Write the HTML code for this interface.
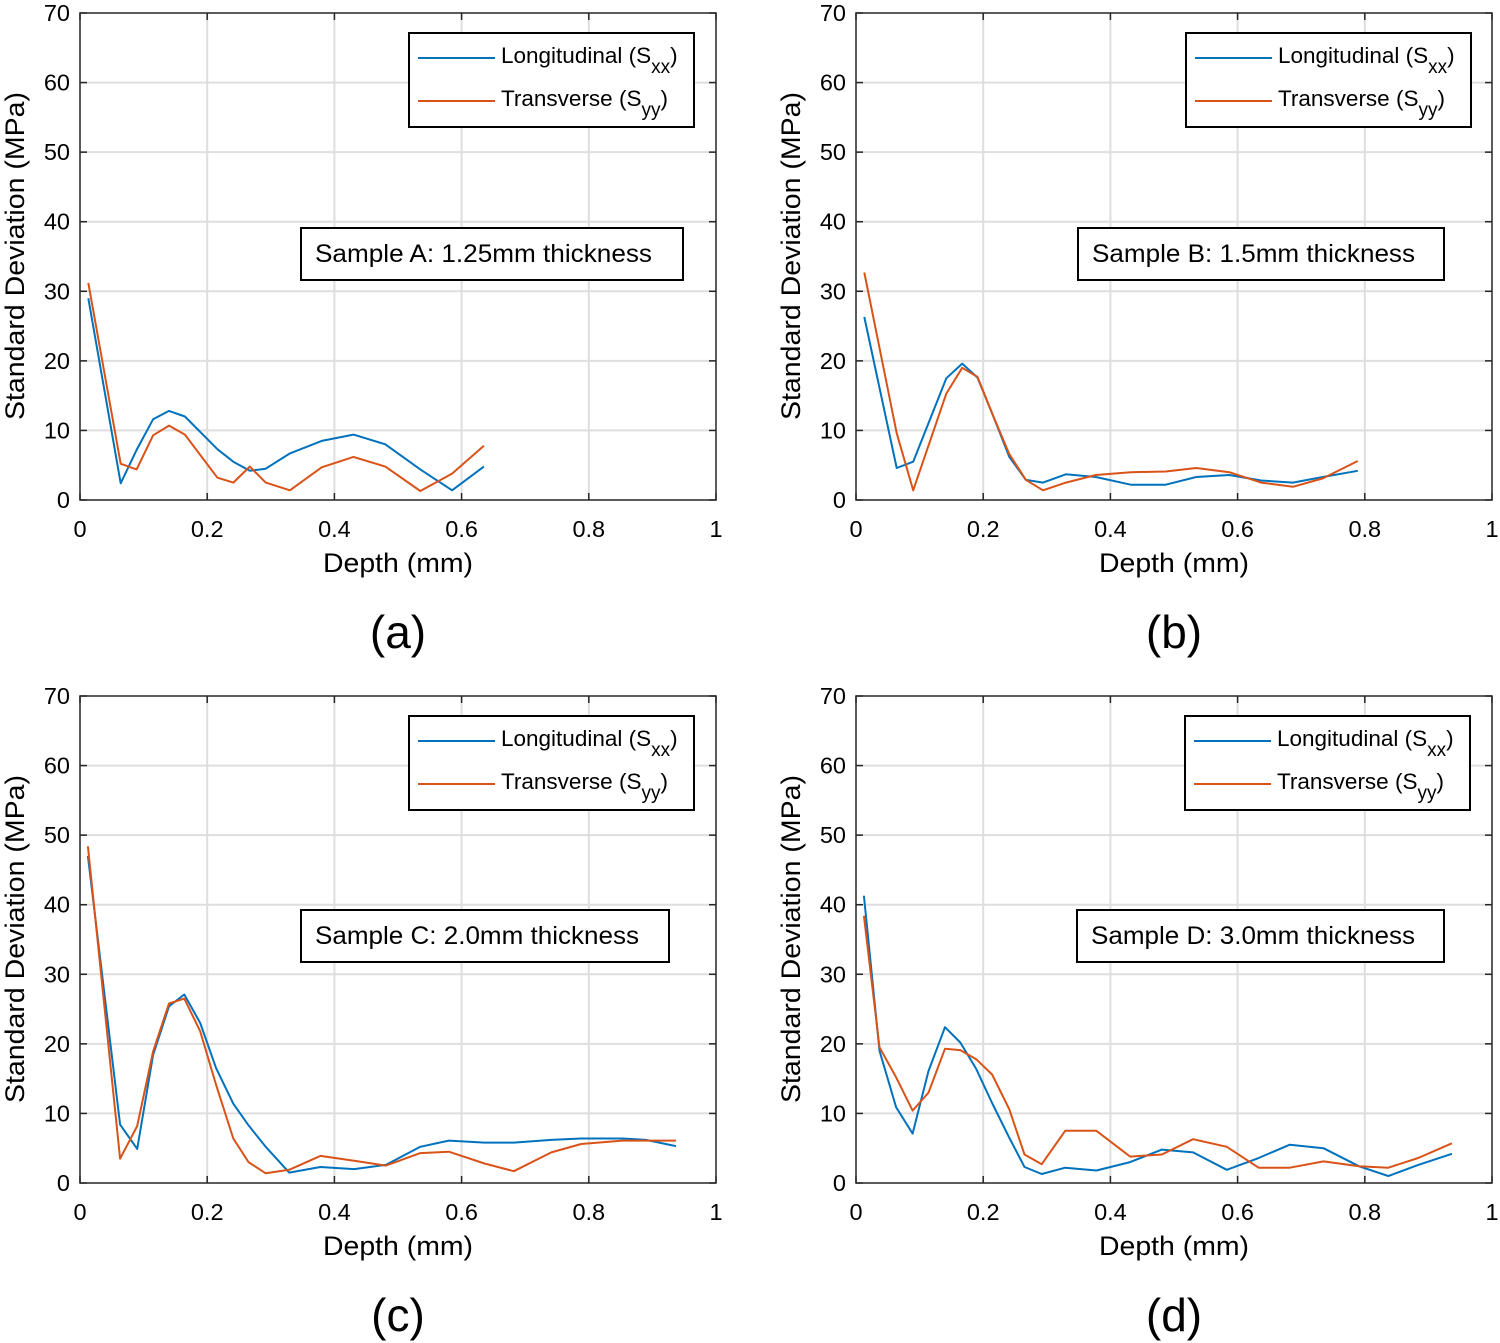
<!DOCTYPE html>
<html><head><meta charset="utf-8"><style>
html,body{margin:0;padding:0;background:#fff;}
svg{display:block;font-family:"Liberation Sans",Arial,sans-serif;}
</style></head><body>
<svg id="fig" width="1500" height="1343" viewBox="0 0 1500 1343" xmlns="http://www.w3.org/2000/svg"></svg>
<script>
const xTicks = [0, 0.2, 0.4, 0.6, 0.8, 1];
const xTickLabels = ['0', '0.2', '0.4', '0.6', '0.8', '1'];
const yTicks = [0, 10, 20, 30, 40, 50, 60, 70];
const yTickLabels = ['0', '10', '20', '30', '40', '50', '60', '70'];

const depthA = [0.013,0.064,0.089,0.115,0.14,0.165,0.216,0.241,0.267,0.292,0.33,0.38,0.43,0.48,0.535,0.585,0.635];
const longA = [29.0,2.4,7.2,11.6,12.8,12.0,7.3,5.5,4.2,4.5,6.7,8.5,9.4,8.0,4.4,1.4,4.8];
const transA = [31.2,5.2,4.4,9.3,10.7,9.4,3.2,2.5,4.8,2.5,1.4,4.7,6.2,4.8,1.3,3.8,7.8];

const depthB = [0.013,0.064,0.09,0.142,0.167,0.191,0.216,0.241,0.267,0.294,0.33,0.377,0.432,0.487,0.535,0.587,0.637,0.687,0.734,0.789];
const longB = [26.3,4.6,5.5,17.5,19.6,17.6,12.0,6.2,2.9,2.5,3.7,3.3,2.2,2.2,3.3,3.6,2.8,2.5,3.3,4.2];
const transB = [32.7,9.6,1.4,15.3,19.0,17.7,12.0,6.6,2.9,1.4,2.5,3.6,4.0,4.1,4.6,4.0,2.5,1.9,3.1,5.6];

const depthC = [0.0124,0.063,0.09,0.115,0.14,0.164,0.189,0.214,0.241,0.265,0.292,0.329,0.378,0.431,0.481,0.535,0.58,0.636,0.682,0.741,0.788,0.853,0.89,0.937];
const longC = [47.0,8.4,4.9,18.4,25.4,27.1,23.0,16.5,11.4,8.3,5.2,1.5,2.3,2.0,2.6,5.2,6.1,5.8,5.8,6.2,6.4,6.4,6.2,5.3];
const transC = [48.4,3.5,8.2,18.9,25.8,26.5,21.8,14.1,6.4,3.0,1.4,1.9,3.9,3.2,2.5,4.3,4.5,2.8,1.7,4.4,5.6,6.1,6.1,6.1];

const depthD = [0.0124,0.037,0.063,0.089,0.114,0.14,0.164,0.189,0.214,0.241,0.265,0.292,0.329,0.378,0.431,0.481,0.53,0.583,0.633,0.682,0.735,0.791,0.837,0.884,0.937];
const longD = [41.3,19.0,10.9,7.1,16.1,22.4,20.2,16.4,11.5,6.5,2.3,1.3,2.2,1.8,3.0,4.8,4.4,1.9,3.6,5.5,5.0,2.4,1.0,2.6,4.2];
const transD = [38.4,19.5,15.2,10.4,13.0,19.3,19.1,17.8,15.6,10.6,4.1,2.7,7.5,7.5,3.8,4.1,6.3,5.2,2.2,2.2,3.1,2.4,2.2,3.6,5.7];

const NS = 'http://www.w3.org/2000/svg';
const svg = document.getElementById('fig');
function mk(tag, attrs, parent){ const e=document.createElementNS(NS,tag); for(const k in attrs) e.setAttribute(k,attrs[k]); (parent||svg).appendChild(e); return e; }

const panels = [
 {id:'a', x0:80, y0:13, label:'(a)', sample:'Sample A: 1.25mm thickness', sw:337, d:depthA, l:longA, t:transA, leg:[409,33], box:[301,228,382]},
 {id:'b', x0:856, y0:13, label:'(b)', sample:'Sample B: 1.5mm thickness', sw:323, d:depthB, l:longB, t:transB, leg:[1186,33], box:[1078,228,366]},
 {id:'c', x0:80, y0:696, label:'(c)', sample:'Sample C: 2.0mm thickness', sw:324, d:depthC, l:longC, t:transC, leg:[409,716], box:[301,910,368]},
 {id:'d', x0:856, y0:696, label:'(d)', sample:'Sample D: 3.0mm thickness', sw:324, d:depthD, l:longD, t:transD, leg:[1185,716], box:[1077,910,367]}
];
const W=636, H=487;

panels.forEach(p=>{
  const g = mk('g',{});
  
  
  const xs = v => p.x0 + v*W;
  const ys = v => p.y0 + H - v/70*H;
  xTicks.forEach(t=>{ if(t>0&&t<1){ const l=mk('line',{x1:xs(t),x2:xs(t),y1:p.y0,y2:p.y0+H,stroke:'#dedede','stroke-width':2},g);   }});
  yTicks.forEach(t=>{ if(t>0&&t<70){ const l=mk('line',{x1:p.x0,x2:p.x0+W,y1:ys(t),y2:ys(t),stroke:'#dedede','stroke-width':2},g);   }});
  const mkLine=(vals,color,name)=>{
    const pts = p.d.map((d,i)=>xs(d).toFixed(1)+','+ys(vals[i]).toFixed(1)).join(' ');
    const pl = mk('polyline',{points:pts,fill:'none',stroke:color,'stroke-width':2,'stroke-linejoin':'round'},g);
    
    
  };
  mkLine(p.l,'#0072BD','longitudinal-line');
  mkLine(p.t,'#D95319','transverse-line');
  const fr = mk('rect',{x:p.x0,y:p.y0,width:W,height:H,fill:'none',stroke:'#262626','stroke-width':1.5},g);
   
  xTicks.forEach((t,i)=>{
    mk('line',{x1:xs(t),x2:xs(t),y1:p.y0+H,y2:p.y0+H-7,stroke:'#262626','stroke-width':1.5},g);
    mk('line',{x1:xs(t),x2:xs(t),y1:p.y0,y2:p.y0+7,stroke:'#262626','stroke-width':1.5},g);
    const tx = mk('text',{x:xs(t),y:p.y0+H+37,'text-anchor':'middle','font-size':23.5,fill:'#000'},g);
    tx.textContent = xTickLabels[i];
     
  });
  yTicks.forEach((t,i)=>{
    mk('line',{x1:p.x0,x2:p.x0+7,y1:ys(t),y2:ys(t),stroke:'#262626','stroke-width':1.5},g);
    mk('line',{x1:p.x0+W,x2:p.x0+W-7,y1:ys(t),y2:ys(t),stroke:'#262626','stroke-width':1.5},g);
    const tx = mk('text',{x:p.x0-10,y:ys(t)+8,'text-anchor':'end','font-size':23.5,fill:'#000'},g);
    tx.textContent = yTickLabels[i];
     
  });
  const xt = mk('text',{x:p.x0+318,y:p.y0+H+72,'text-anchor':'middle','font-size':27,fill:'#000',textLength:150,lengthAdjust:'spacingAndGlyphs'},g);
  xt.textContent='Depth (mm)';
   
  const yt = mk('text',{x:0,y:0,'text-anchor':'middle','font-size':27,fill:'#000',textLength:328,lengthAdjust:'spacingAndGlyphs',transform:`translate(${p.x0-56},${p.y0+243}) rotate(-90)`},g);
  yt.textContent='Standard Deviation (MPa)';
   
  const pl = mk('text',{x:p.x0+318,y:p.y0+H+148,'text-anchor':'middle','font-size':46,fill:'#000'},g);
  pl.textContent=p.label;
   
  const lg = mk('g',{},g);
   
  const [lx,ly]=p.leg;
  mk('rect',{x:lx,y:ly,width:285,height:94,fill:'#fff',stroke:'#000','stroke-width':2},lg);
  mk('line',{x1:lx+9,x2:lx+86,y1:ly+25,y2:ly+25,stroke:'#0072BD','stroke-width':2},lg);
  mk('line',{x1:lx+9,x2:lx+86,y1:ly+68,y2:ly+68,stroke:'#D95319','stroke-width':2},lg);
  const t1 = mk('text',{x:lx+92,y:ly+30,'font-size':22.5,fill:'#000'},lg);
  t1.innerHTML='Longitudinal (S<tspan dy="10" font-size="19">xx</tspan><tspan dy="-10">)</tspan>';
   
  const t2 = mk('text',{x:lx+92,y:ly+73,'font-size':22.5,fill:'#000'},lg);
  t2.innerHTML='Transverse (S<tspan dy="10" font-size="19">yy</tspan><tspan dy="-10">)</tspan>';
   
  const [bx,by,bw]=p.box;
  const sb = mk('g',{},g);
   
  mk('rect',{x:bx,y:by,width:bw,height:52,fill:'#fff',stroke:'#000','stroke-width':2},sb);
  const st = mk('text',{x:bx+14,y:by+34,'font-size':25,fill:'#000',textLength:p.sw,lengthAdjust:'spacingAndGlyphs'},sb);
  st.textContent=p.sample;
});
</script>
</body></html>
